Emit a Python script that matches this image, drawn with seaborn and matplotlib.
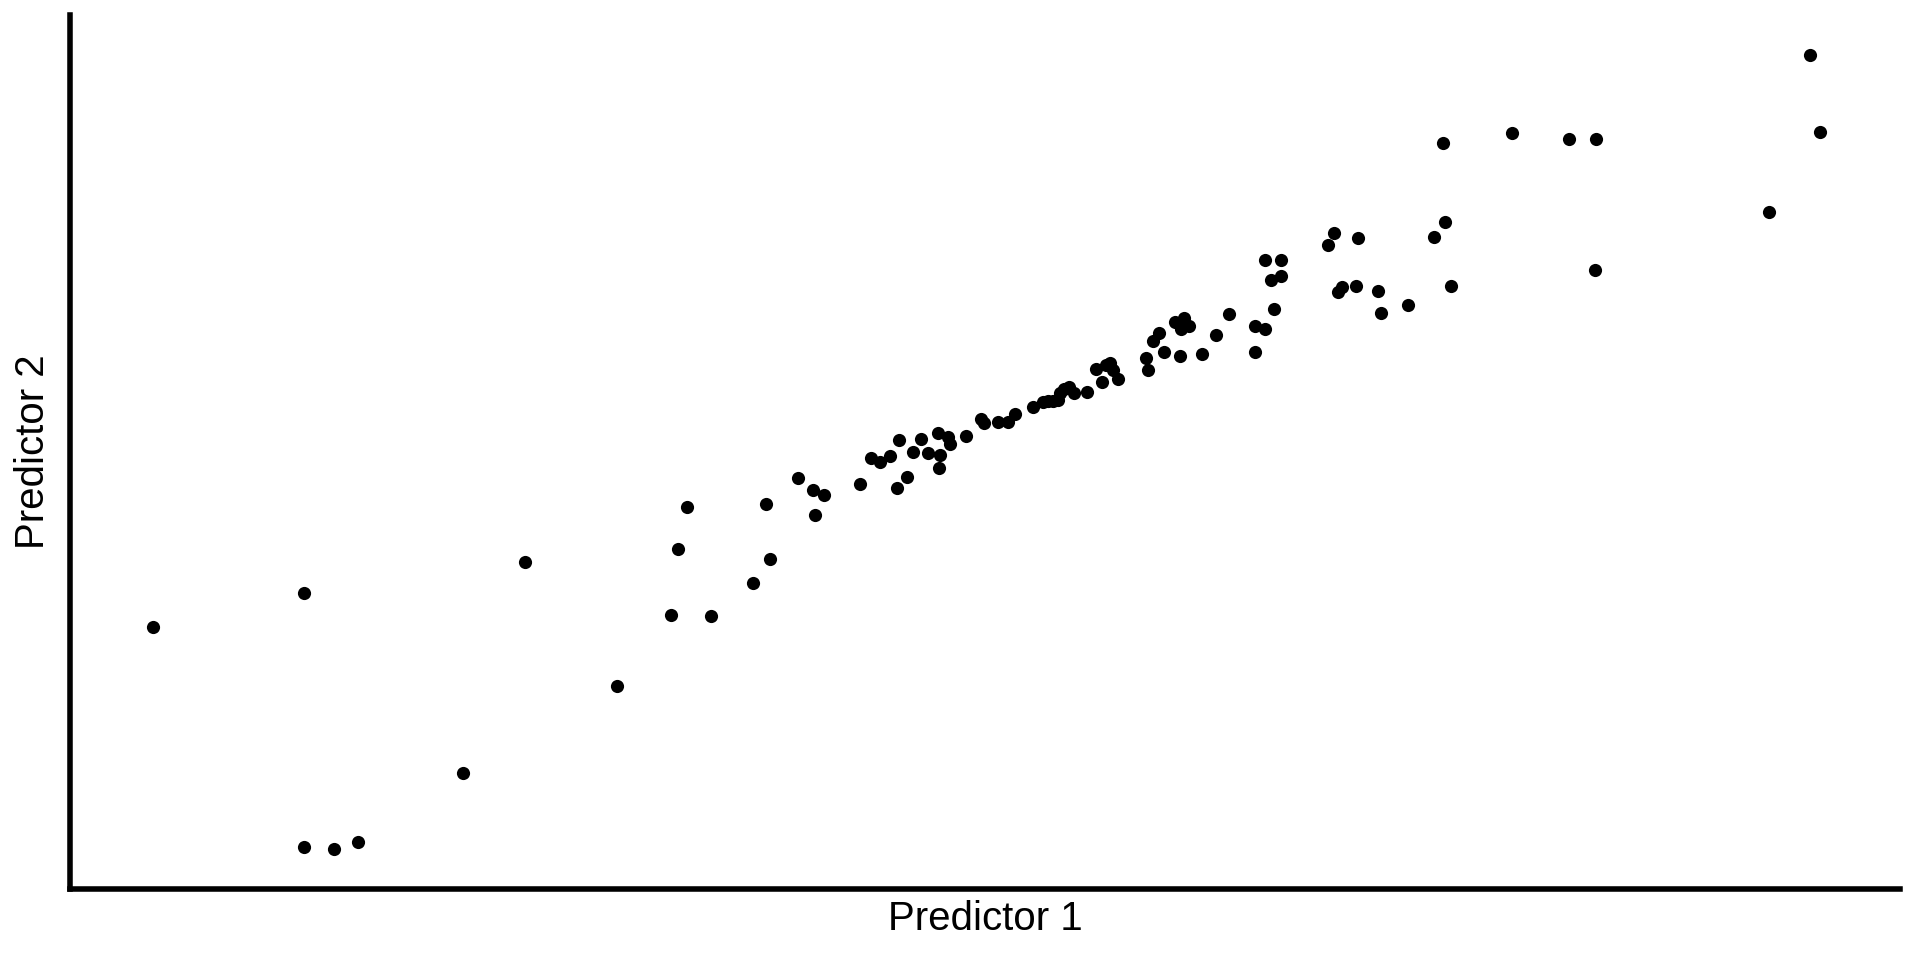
import matplotlib
matplotlib.use("Agg")
import matplotlib.pyplot as plt
import pandas as pd
import seaborn as sns

sns.set_theme(style="white")
plt.rcParams["font.family"] = ["Liberation Sans", "DejaVu Sans"]

predictor_1 = [
    125, 248, 248, 273, 292, 378, 429, 504, 548, 554, 561, 581, 615, 626, 629,
    652, 664, 666, 673, 702, 711, 719, 727, 733, 734, 741, 746, 752, 758, 766,
    767, 768, 774, 776, 789, 801, 804, 815, 823, 829, 844, 852, 856, 860, 864,
    866, 869, 873, 877, 888, 895, 900, 903, 907, 909, 913, 936, 938, 942, 947,
    951, 960, 964, 965, 967, 971, 982, 993, 1004, 1025, 1025, 1033, 1033, 1038,
    1041, 1046, 1046, 1085, 1090, 1093, 1096, 1108, 1109, 1126, 1128, 1150,
    1171, 1179, 1180, 1185, 1235, 1282, 1304, 1303, 1445, 1479, 1487,
]
predictor_2 = [
    272, 300, 92, 91, 96, 153, 325, 224, 282, 336, 370, 281, 308, 373, 328,
    394, 384, 364, 380, 389, 410, 407, 412, 386, 425, 395, 415, 426, 414, 431,
    402, 413, 427, 422, 428, 442, 439, 440, 440, 446, 452, 456, 457, 457, 458,
    463, 467, 468, 463, 464, 483, 472, 486, 488, 482, 475, 492, 482, 506, 512,
    497, 521, 494, 516, 525, 518, 495, 511, 528, 497, 518, 572, 516, 556,
    532, 572, 559, 584, 594, 546, 550, 551, 590, 547, 529, 535,
    591, 668, 603, 551, 676, 671, 671, 564, 611, 740, 677,
]

df = pd.DataFrame({"Predictor 1": predictor_1, "Predictor 2": predictor_2})

fig = plt.figure(figsize=(19.2, 9.6), dpi=100)
ax = fig.add_axes([0.0365, 0.074, 0.953, 0.91])

sns.scatterplot(data=df, x="Predictor 1", y="Predictor 2", ax=ax,
                color="black", s=90, linewidth=0)

ax.set_xlim(57, 1552)
ax.set_ylim(58, 772)
ax.set_xticks([])
ax.set_yticks([])
ax.set_xlabel("Predictor 1", fontsize=29, labelpad=8, color="black")
ax.set_ylabel("Predictor 2", fontsize=29, labelpad=13, color="black")

sns.despine(ax=ax)
for side in ["left", "bottom"]:
    ax.spines[side].set_linewidth(4)
    ax.spines[side].set_color("black")

fig.savefig("out.png", dpi=100)
